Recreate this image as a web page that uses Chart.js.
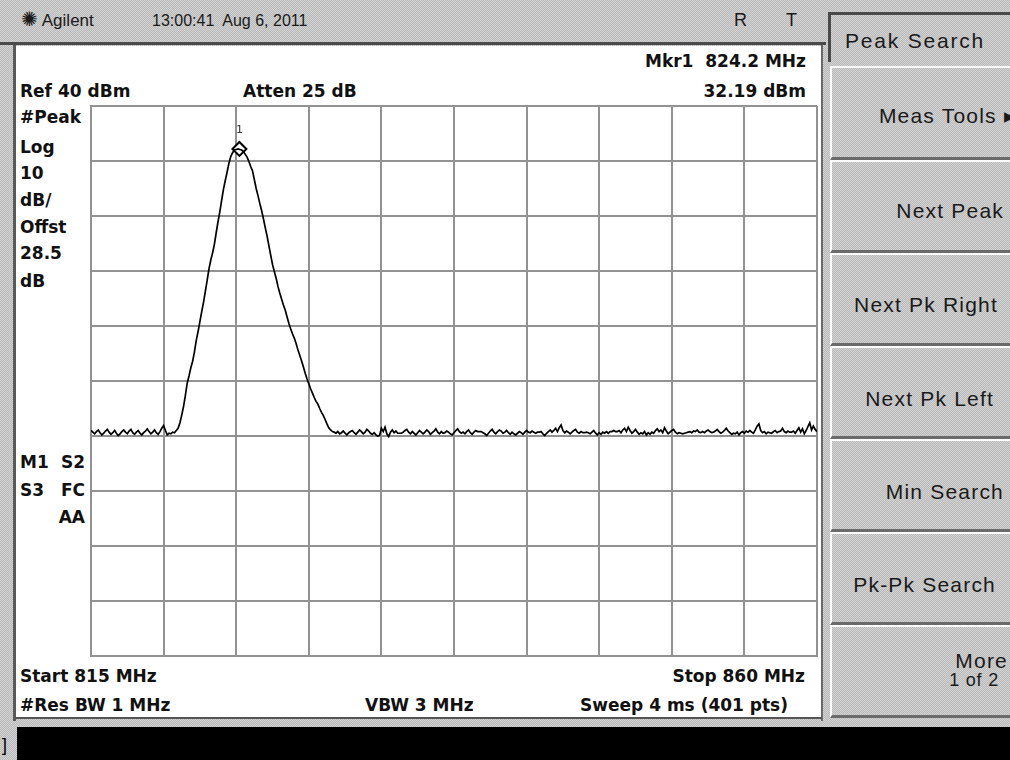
<!DOCTYPE html>
<html><head><meta charset="utf-8">
<script src="https://cdn.jsdelivr.net/npm/chart.js@4.4.0/dist/chart.umd.min.js"></script>
<style>
html,body{margin:0;padding:0;}
body{width:1010px;height:760px;position:relative;overflow:hidden;
 background: repeating-conic-gradient(#b9b9b9 0 25%, #d3d3d3 0 50%) 0 0/2px 2px;
 font-family:"Liberation Sans",Arial,sans-serif;}
.abs{position:absolute;white-space:nowrap;}
.blk{position:absolute;}
.ann{position:absolute;white-space:nowrap;font-family:"DejaVu Sans",sans-serif;font-weight:bold;font-size:17px;line-height:17px;color:#111;}
.tb{position:absolute;white-space:nowrap;font-size:17px;line-height:17px;color:#1a1a1a;}
.btn{position:absolute;left:830px;width:190px;border-top:2px solid #fff;border-left:2px solid #fff;border-bottom:3px solid #6a6a6a;box-sizing:border-box;}
.sk{position:absolute;white-space:nowrap;font-size:21px;line-height:21px;letter-spacing:1.2px;color:#1a1a1a;}
#chartbox{position:absolute;left:82px;top:97px;width:744px;height:568px;}
</style>
</head>
<body>
<!-- frame -->
<div class="blk" style="left:0;top:42px;width:826px;height:3px;background:#4a4a4a;"></div>
<div class="blk" style="left:13px;top:45px;width:3px;height:676px;background:#5a5a5a;"></div>
<div class="blk" style="left:16px;top:46px;width:806px;height:671px;background:#fff;"></div>
<div class="blk" style="left:821px;top:45px;width:2px;height:676px;background:#6a6a6a;"></div>
<div class="blk" style="left:16px;top:717px;width:806px;height:2px;background:#555;"></div>
<div class="blk" style="left:17px;top:727px;width:993px;height:33px;background:#000;"></div>
<div class="abs" style="left:2px;top:736px;font-size:18px;line-height:18px;color:#000;">]</div>

<!-- title bar -->
<div class="tb" style="left:21px;top:11px;"><span style="font-size:20px;">✺</span> Agilent</div>
<div class="tb" style="left:152px;top:12px;font-size:16px;">13:00:41&nbsp; Aug 6, 2011</div>
<div class="tb" style="left:734px;top:12px;font-size:18px;">R</div>
<div class="tb" style="left:786px;top:12px;font-size:18px;">T</div>

<!-- softkeys -->
<div class="blk" style="left:828px;top:12px;width:190px;height:50px;border-top:3px solid #4a4a4a;border-left:3px solid #4a4a4a;box-sizing:border-box;"></div>
<div class="sk" style="left:845px;top:30px;letter-spacing:1.8px;">Peak Search</div>

<div class="btn" style="top:66px;height:94px;"></div>
<div class="btn" style="top:160px;height:93px;"></div>
<div class="btn" style="top:253px;height:93px;"></div>
<div class="btn" style="top:346px;height:93px;"></div>
<div class="btn" style="top:439px;height:93px;"></div>
<div class="btn" style="top:532px;height:93px;"></div>
<div class="btn" style="top:625px;height:93px;"></div>

<div class="sk" style="right:-6px;top:105px;">Meas Tools ▸</div>
<div class="sk" style="right:6px;top:200px;">Next Peak</div>
<div class="sk" style="right:12px;top:294px;">Next Pk Right</div>
<div class="sk" style="right:16px;top:388px;">Next Pk Left</div>
<div class="sk" style="right:6px;top:481px;">Min Search</div>
<div class="sk" style="right:14px;top:574px;">Pk-Pk Search</div>
<div class="sk" style="right:2px;top:650px;">More</div>
<div class="sk" style="right:11px;top:671px;font-size:18px;line-height:18px;letter-spacing:0.8px;">1 of 2</div>

<!-- chart annotations -->
<div class="ann" style="right:204px;top:53px;">Mkr1&nbsp; 824.2 MHz</div>
<div class="ann" style="right:204px;top:83px;">32.19 dBm</div>
<div class="ann" style="left:20px;top:83px;">Ref 40 dBm</div>
<div class="ann" style="left:243px;top:83px;">Atten 25 dB</div>
<div class="ann" style="left:20px;top:109px;">#Peak</div>
<div class="ann" style="left:20px;top:139px;">Log</div>
<div class="ann" style="left:20px;top:165px;">10</div>
<div class="ann" style="left:20px;top:192px;">dB/</div>
<div class="ann" style="left:20px;top:219px;">Offst</div>
<div class="ann" style="left:20px;top:245px;">28.5</div>
<div class="ann" style="left:20px;top:273px;">dB</div>
<div class="ann" style="left:20px;top:454px;">M1</div>
<div class="ann" style="right:925px;top:454px;">S2</div>
<div class="ann" style="left:20px;top:482px;">S3</div>
<div class="ann" style="right:925px;top:482px;">FC</div>
<div class="ann" style="right:925px;top:509px;">AA</div>
<div class="ann" style="left:20px;top:668px;">Start 815 MHz</div>
<div class="ann" style="right:205px;top:668px;">Stop 860 MHz</div>
<div class="ann" style="left:20px;top:697px;">#Res BW 1 MHz</div>
<div class="ann" style="left:365px;top:697px;">VBW 3 MHz</div>
<div class="ann" style="right:222px;top:697px;">Sweep 4 ms (401 pts)</div>

<div id="chartbox"><canvas id="c"></canvas></div>

<script>
// ---- sweep settings ----
const startMHz = 815;
const stopMHz = 860;
const sweepPoints = 401;
const refLevel = 40;      // dBm, top of screen
const bottomLevel = -60;  // dBm, bottom of screen
const dbPerDiv = 10;

// ---- trace values (dBm) ----
const noiseLeft = [-19.0,-19.3,-19.6,-19.2,-18.9,-19.4,-19.8,-19.5,-19.1,-18.8,
 -19.3,-19.7,-19.4,-19.0,-19.5,-19.9,-19.6,-19.2,-18.9,-19.3,
 -19.6,-19.1,-18.8,-19.4,-19.7,-19.3,-19.0,-19.5,-19.8,-19.4,
 -19.1,-18.7,-19.2,-19.6,-19.3,-18.9,-19.4,-19.7,-19.2,-18.6,
 -18.1,-19.0,-19.8,-19.5,-19.6,-19.3];
const peakValues = [-19.4,-19.0,-18.6,-17.6,-16.2,-14.6,-12.6,-10.4,-9.1,-7.6,
 -6.4,-4.7,-2.6,-1.0,0.8,2.6,4.3,6.3,8.3,10.4,
 12.0,13.3,14.9,17.0,19.0,20.8,22.9,24.9,26.5,28.0,
 29.6,30.8,31.5,32.0,32.1,32.19,32.1,32.0,31.7,31.2,
 30.7,29.9,29.0,28.2,26.6,25.0,23.7,22.3,21.0,19.5,
 17.9,16.4,14.6,12.9,11.2,9.9,8.7,7.2,6.0,4.9,
 3.8,2.9,1.7,0.5,-0.5,-1.4,-2.2,-3.2,-4.3,-5.3,
 -6.3,-7.4,-8.6,-9.6,-10.5,-11.4,-12.2,-13.0,-13.7,-14.2,
 -15.0,-15.7,-16.3,-17.0,-17.8,-18.5,-18.9,-19.2];
const noiseRight = [-19.3,-19.5,-19.2,-19.6,-19.4,-19.1,-19.5,-19.8,-19.4,-19.2,
 -19.0,-19.4,-19.7,-19.3,-18.9,-19.2,-19.6,-19.3,-18.8,-19.1,
 -19.5,-19.7,-19.4,-19.8,-20.0,-19.9,-18.6,-19.2,-18.4,-19.6,
 -20.1,-19.3,-18.9,-19.4,-19.1,-19.5,-19.5,-19.5,-19.3,-19.0,
 -18.8,-19.3,-19.6,-19.2,-19.5,-19.8,-19.4,-19.0,-19.3,-19.6,
 -19.3,-18.9,-19.2,-19.7,-19.4,-19.1,-18.7,-19.3,-19.6,-19.2,
 -19.5,-19.4,-19.1,-19.3,-19.6,-19.8,-19.4,-19.0,-18.7,-19.2,
 -19.5,-19.3,-19.6,-19.2,-18.9,-19.4,-19.7,-19.3,-19.0,-19.2,
 -19.2,-19.2,-19.4,-19.6,-19.9,-19.5,-19.1,-18.8,-19.3,-19.6,
 -19.2,-18.9,-19.1,-19.5,-19.3,-19.0,-19.4,-19.7,-19.3,-19.6,
 -19.8,-19.5,-19.2,-19.4,-19.7,-19.3,-19.0,-19.3,-19.4,-19.1,
 -19.3,-19.5,-19.3,-19.3,-19.2,-19.6,-19.9,-19.5,-19.2,-18.9,
 -19.3,-19.0,-18.6,-19.2,-18.5,-18.0,-19.0,-19.4,-19.1,-19.3,
 -19.6,-19.3,-19.0,-18.8,-19.3,-19.5,-19.2,-19.4,-19.4,-19.3,
 -19.4,-19.6,-19.3,-19.0,-19.5,-19.8,-19.4,-19.7,-19.3,-19.5,
 -19.2,-19.5,-19.2,-19.2,-19.0,-19.2,-19.2,-19.0,-19.4,-18.9,
 -18.6,-19.2,-18.4,-19.0,-19.5,-19.2,-18.8,-19.3,-19.7,-19.4,
 -19.6,-19.2,-19.8,-19.4,-19.7,-19.3,-19.5,-19.0,-18.7,-19.2,
 -18.9,-19.4,-18.5,-19.1,-19.6,-19.3,-19.0,-18.8,-19.3,-19.6,
 -19.4,-19.5,-19.6,-19.5,-19.4,-19.3,-19.2,-19.4,-19.1,-19.2,
 -18.9,-19.3,-19.4,-19.2,-19.4,-19.1,-18.9,-19.2,-19.4,-19.3,
 -19.1,-18.8,-19.2,-19.5,-19.3,-19.0,-18.6,-19.1,-19.4,-19.7,
 -19.5,-19.6,-19.3,-19.8,-19.4,-19.2,-19.5,-19.1,-19.3,-19.0,
 -19.3,-19.5,-18.9,-18.2,-17.8,-19.0,-19.4,-19.2,-19.6,-19.3,
 -19.4,-19.5,-19.2,-19.0,-19.4,-19.2,-19.1,-18.6,-19.2,-19.4,
 -19.1,-19.3,-19.3,-19.1,-19.5,-19.0,-18.5,-19.3,-18.7,-19.6,
 -19.0,-18.3,-17.6,-18.9,-18.2,-18.8,-19.2];

// ---- marker ----
const markerFreq = [824.2];
const markerLevel = [32.19];
const markerLabels = ["1"];

const traceDbm = noiseLeft.concat(peakValues, noiseRight);
const stepMHz = (stopMHz - startMHz) / (sweepPoints - 1);
const tracePoints = traceDbm.map((v, i) => ({ x: startMHz + i * stepMHz, y: v }));
const markerPoints = markerFreq.map((f, i) => ({ x: f, y: markerLevel[i] }));

const markerLabelPlugin = {
  id: 'markerLabel',
  afterDatasetsDraw(chart) {
    const meta = chart.getDatasetMeta(1);
    const ctx = chart.ctx;
    ctx.save();
    ctx.font = '11px "DejaVu Sans Mono", monospace';
    ctx.fillStyle = '#333';
    ctx.textAlign = 'center';
    ctx.textBaseline = 'bottom';
    meta.data.forEach((pt, i) => {
      ctx.fillText(markerLabels[i], pt.x, pt.y - 13);
    });
    ctx.restore();
  }
};

const gridColor = '#929292';
new Chart(document.getElementById('c'), {
  type: 'line',
  data: {
    datasets: [
      {
        data: tracePoints,
        borderColor: '#000',
        borderWidth: 1.7,
        pointRadius: 0,
        tension: 0,
        fill: false
      },
      {
        data: markerPoints,
        showLine: false,
        pointStyle: 'rectRot',
        pointRadius: 7,
        pointBackgroundColor: '#fff',
        pointBorderColor: '#000',
        pointBorderWidth: 2
      }
    ]
  },
  options: {
    responsive: true,
    maintainAspectRatio: false,
    animation: false,
    layout: { padding: 2 },
    plugins: { legend: { display: false }, tooltip: { enabled: false } },
    scales: {
      x: {
        type: 'linear',
        min: startMHz,
        max: stopMHz,
        ticks: { display: false, stepSize: (stopMHz - startMHz) / 10 },
        grid: { color: gridColor, lineWidth: 2, drawTicks: false },
        border: { display: true, color: gridColor, width: 2 }
      },
      y: {
        type: 'linear',
        min: bottomLevel,
        max: refLevel,
        ticks: { display: false, stepSize: dbPerDiv },
        grid: { color: gridColor, lineWidth: 2, drawTicks: false },
        border: { display: true, color: gridColor, width: 2 }
      }
    }
  },
  plugins: [markerLabelPlugin]
});
</script>
</body></html>
